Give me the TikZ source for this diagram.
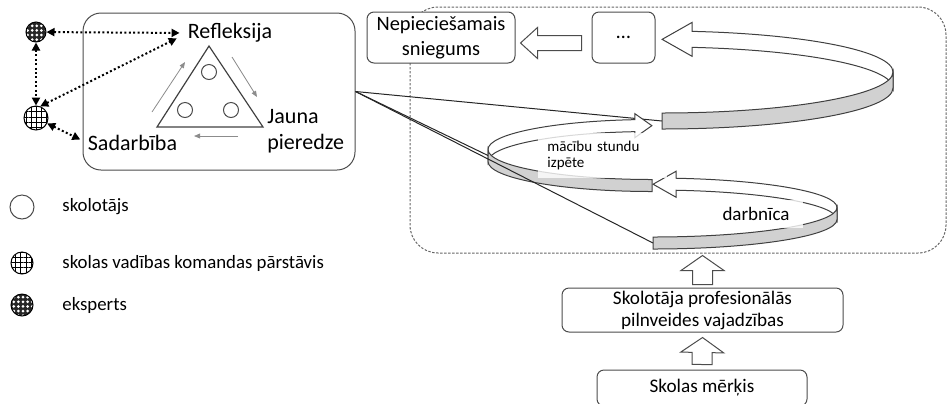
\documentclass[tikz,border=0pt]{standalone}
\usepackage{fontspec}
\setmainfont{Carlito}
\usetikzlibrary{arrows.meta,calc,positioning,patterns.meta}

\tikzset{
	box/.style={draw=black!70, line width=0.5pt, rounded corners=3.5pt, fill=white, align=center, inner sep=0pt, font=\fontsize{10.2}{12.5}\selectfont},
	groupbox/.style={draw=black!70, line width=0.5pt, rounded corners=9pt, inner sep=0pt},
	frame/.style={draw=black!60, line width=0.5pt, dash pattern=on 1.2pt off 0.8pt, rounded corners=14pt, inner sep=0pt},
	biglabel/.style={font=\fontsize{11}{13}\selectfont, inner sep=0pt},
	legendtext/.style={font=\fontsize{9.4}{11}\selectfont, inner sep=0pt},
	back/.style={draw=black!75, line width=0.5pt, fill=white},
	front/.style={draw=black!75, line width=0.5pt, fill=black!18},
	fan/.style={draw=black!85, line width=0.5pt},
	dotarrow/.style={line width=1pt, dash pattern=on 1pt off 1.2pt, {Triangle[length=4pt,width=4pt]}-{Triangle[length=4pt,width=4pt]}},
	cyclearrow/.style={draw=black!45, line width=0.4pt, -{Triangle[length=3pt,width=2.4pt]}},
	blockarrow/.style={draw=black!70, line width=0.5pt, fill=white},
	teacher/.style={circle, draw=black!70, line width=0.5pt, inner sep=0pt, minimum size=#1},
	manager/.style={circle, draw=black, line width=0.5pt, inner sep=0pt, minimum size=#1, fill=white, pattern={Hatch[distance=2.6pt, angle=0, line width=0.45pt]}, pattern color=black},
	expert/.style={circle, draw=black, line width=0.5pt, inner sep=0pt, minimum size=#1, preaction={fill=black!85}, pattern={Dots[distance=2.3pt, radius=0.75pt]}, pattern color=white},
	looplabel/.style={fill=white, fill opacity=0.8, text opacity=1, inner sep=0pt}
}

\newcommand{\fatarrow}[5]{%
	\coordinate (fatbase) at ($(#2)!#5!(#1)$);
	\draw[blockarrow] ($(#1)!#3!90:(#2)$) -- ($(fatbase)!#3!90:(#2)$) -- ($(fatbase)!#4!90:(#2)$) -- (#2)
		-- ($(fatbase)!#4!-90:(#2)$) -- ($(fatbase)!#3!-90:(#2)$) -- ($(#1)!#3!-90:(#2)$) -- cycle;
}

\begin{document}
\begin{tikzpicture}[x=0.5pt, y=0.5pt]
	\useasboundingbox (0,0) rectangle (947,-403);

	\node[frame, minimum width=268pt, minimum height=123pt] (frame) at (678,-130) {};
	\node[box, minimum width=74pt, minimum height=25.5pt] (snieg) at (441,-37.5) {Nepieciešamais\\sniegums};
	\node[box, minimum width=31.5pt, minimum height=25.5pt] (dots) at (623.5,-37.5) {…};

	\coordinate (topend) at (662,-121);
	\coordinate (midturn) at (488,-155.5);
	\coordinate (botend) at (653,-243);

	\node[groupbox, minimum width=136pt, minimum height=78.5pt] (grp) at (219,-91.5) {};
	\draw[fan] (grp.east) -- (topend);

	\draw[back] (662,-72) ++(82.5:231 and 41) arc[start angle=82.5, end angle=0, x radius=231, y radius=41] -- ++(0,-16)
		arc[start angle=0, end angle=82.5, x radius=231, y radius=41] -- ++(0,-9) -- ++(-30,17) -- ++(30,17) -- cycle;
	\draw[front] (893,-72) arc[start angle=0, end angle=-90, x radius=231, y radius=41] -- ++(0,-16)
		arc[start angle=-90, end angle=0, x radius=231, y radius=41] -- cycle;

	\draw[back] (652,-149.5) ++(96:164 and 30) arc[start angle=96, end angle=180, x radius=164, y radius=30] -- ++(0,-12)
		arc[start angle=180, end angle=96, x radius=164, y radius=30] -- ++(0,-6) -- ++(17,12) -- ++(-17,12) -- cycle;
	\draw[front] (488,-149.5) arc[start angle=180, end angle=270, x radius=164, y radius=30] -- ++(0,-12)
		arc[start angle=270, end angle=180, x radius=164, y radius=30] -- cycle;

	\draw[back] (653,-207.5) ++(82.8:184 and 29.5) arc[start angle=82.8, end angle=0, x radius=184, y radius=29.5] -- ++(0,-12)
		arc[start angle=0, end angle=82.8, x radius=184, y radius=29.5] -- ++(0,-7) -- ++(-23,13) -- ++(23,13) -- cycle;
	\draw[front] (837,-207.5) arc[start angle=0, end angle=-90, x radius=184, y radius=29.5] -- ++(0,-12)
		arc[start angle=-90, end angle=0, x radius=184, y radius=29.5] -- cycle;

	\node[looplabel, anchor=north west, minimum width=64.5pt, minimum height=22.5pt, inner xsep=4.5pt, text width=55.5pt, align=left, font=\fontsize{7.5}{8}\selectfont] (lessons) at (538,-133) {mācību stundu\\izpēte};
	\node[looplabel, minimum width=46.5pt, minimum height=14pt, font=\fontsize{9.5}{11}\selectfont] (workshop) at (756,-214) {darbnīca};

	\draw[fan] (grp.east) -- (midturn);
	\draw[fan] (grp.east) -- (botend);

	\coordinate (a1tail) at ($(dots.west)+(-10,-5.5)$);
	\coordinate (a1tip) at ($(snieg.east)+(5,-5.5)$);
	\fatarrow{a1tail}{a1tip}{3.75pt}{7.75pt}{8.5pt}

	\node[box, minimum width=140.5pt, minimum height=22pt, font=\fontsize{9.6}{11}\selectfont] (needs) at (702.5,-310) {Skolotāja profesionālās\\pilnveides vajadzības};
	\node[box, minimum width=105pt, minimum height=18pt, font=\fontsize{9.6}{11}\selectfont] (goal) at (702,-388) {Skolas mērķis};

	\coordinate (a2tail) at ($(needs.north)+(0,3)$);
	\coordinate (a2tip) at ($(needs.north |- frame.south)+(0,-2)$);
	\fatarrow{a2tail}{a2tip}{5pt}{10.75pt}{7.5pt}
	\coordinate (a3tail) at ($(goal.north)+(0,5)$);
	\coordinate (a3tip) at ($(needs.south)+(0,-5)$);
	\fatarrow{a3tail}{a3tip}{5pt}{10.75pt}{7.5pt}

	\draw[black!75, line width=0.6pt] (209,-46) -- (263,-127) -- (157,-127) -- cycle;
	\node[teacher=7.5pt] (t1) at (209,-72) {};
	\node[teacher=7.5pt] (t2) at (185,-110) {};
	\node[teacher=7.5pt] (t3) at (231,-110) {};
	\draw[cyclearrow] (152,-112) -- (185,-62);
	\draw[cyclearrow] (232,-57) -- (257,-97);
	\draw[cyclearrow] (238,-136) -- (194,-136);

	\node[biglabel] (refl) at (230,-33) {Refleksija};
	\node[biglabel, anchor=west, align=left] (jauna) at (267,-131) {Jauna\\pieredze};
	\node[biglabel] (sadarb) at (132.5,-143) {Sadarbība};

	\node[expert=10pt] (exp) at (36,-32) {};
	\node[manager=12pt] (mgmt) at (36,-118) {};
	\draw[dotarrow, shorten >=4pt] (exp) -- (refl.west);
	\draw[dotarrow] (exp) -- (mgmt);
	\draw[dotarrow, shorten >=6pt] (mgmt.70) -- (refl.west);
	\draw[dotarrow, shorten >=4pt] (mgmt) -- (sadarb.west);

	\node[teacher=12pt] (legteacher) at (22,-207) {};
	\node[manager=11pt] (legmgmt) at (22,-263) {};
	\node[expert=11pt] (legexpert) at (22,-305) {};
	\node[legendtext, anchor=west] (legteachertext) at (62,-207) {skolotājs};
	\node[legendtext, anchor=west] (legmgmttext) at (62,-263) {skolas vadības komandas pārstāvis};
	\node[legendtext, anchor=west] (legexperttext) at (62,-305) {eksperts};
\end{tikzpicture}
\end{document}
